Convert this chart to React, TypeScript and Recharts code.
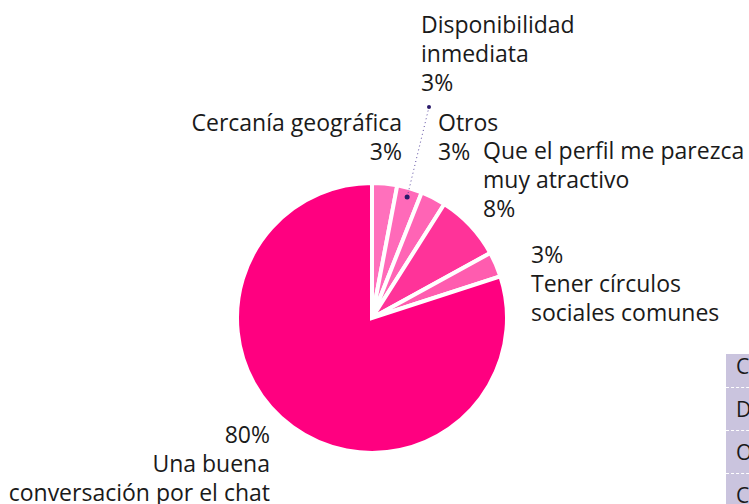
import React from 'react';
import { PieChart, Pie, Cell } from 'recharts';

const categories = [
  'Cercanía geográfica',
  'Disponibilidad inmediata',
  'Otros',
  'Que el perfil me parezca muy atractivo',
  'Tener círculos sociales comunes',
  'Una buena conversación por el chat',
];
const shares = [3, 3, 3, 8, 3, 80];
const sliceColors = ['#ff70bc', '#ff6ab9', '#ff64b5', '#ff3399', '#ff5caf', '#ff0080'];

// label text split into lines, percentage placed first or last
const labelLines = [
  ['Cercanía geográfica', '3%'],
  ['Disponibilidad', 'inmediata', '3%'],
  ['Otros', '3%'],
  ['Que el perfil me parezca', 'muy atractivo', '8%'],
  ['3%', 'Tener círculos', 'sociales comunes'],
  ['80%', 'Una buena', 'conversación por el chat'],
];
const legendRows = ['Cercanía geográfica', 'Disponibilidad inmediata', 'Otros', 'Cita'];

const data = categories.map((name, i) => ({ name, value: shares[i] }));

const CX = 372;
const CY = 318;
const R = 135;
const LINE_H = 29;

// where each label block starts, relative to the pie centre
const labelLayout = [
  { dx: 30, dy: -187, anchor: 'end' },
  { dx: 49, dy: -285, anchor: 'start' },
  { dx: 66, dy: -187, anchor: 'start' },
  { dx: 111, dy: -159, anchor: 'start' },
  { dx: 159, dy: -55, anchor: 'start' },
  { dx: -102, dy: 125, anchor: 'end' },
];

const RAD = Math.PI / 180;

const renderLabel = (props: any) => {
  const { index, cx, cy, midAngle, outerRadius } = props;
  const lay = labelLayout[index];
  const x = cx + lay.dx;
  const y = cy + lay.dy;
  const lines = labelLines[index];
  let leader = null;
  if (index === 1) {
    const cos = Math.cos(-midAngle * RAD);
    const sin = Math.sin(-midAngle * RAD);
    const x1 = cx + (outerRadius - 9) * cos;
    const y1 = cy + (outerRadius - 9) * sin;
    const x2 = x + 8;
    const y2 = y + 74;
    leader = (
      <g>
        <line x1={x1} y1={y1} x2={x2} y2={y2} stroke="#5a4aa0" strokeWidth={1} strokeDasharray="1 3" />
        <circle cx={x1} cy={y1} r={2.5} fill="#2a1a6a" />
        <circle cx={x2} cy={y2} r={2} fill="#2a1a6a" />
      </g>
    );
  }
  return (
    <g key={`lab-${index}`}>
      {leader}
      <text x={x} y={y} textAnchor={lay.anchor} fill="#1a1a1a" fontSize={23} fontFamily="'Open Sans', sans-serif">
        {lines.map((l, j) => (
          <tspan key={j} x={x} y={y + j * LINE_H}>{l}</tspan>
        ))}
      </text>
    </g>
  );
};

const App: React.FC = () => {
  return (
    <div style={{ position: 'absolute', left: 0, top: 0, width: 749, height: 504, overflow: 'hidden', background: '#fff' }}>
      <PieChart width={749} height={504} margin={{ top: 0, right: 0, bottom: 0, left: 0 }}>
        <Pie
          data={data}
          dataKey="value"
          nameKey="name"
          cx={CX}
          cy={CY}
          outerRadius={R}
          startAngle={90}
          endAngle={-270}
          stroke="#ffffff"
          strokeWidth={4}
          label={renderLabel}
          labelLine={false}
          isAnimationActive={false}
        >
          {data.map((d, i) => (
            <Cell key={d.name} fill={sliceColors[i]} />
          ))}
        </Pie>
      </PieChart>
      <div
        style={{
          position: 'absolute',
          left: 726,
          top: 354,
          width: 240,
          height: 160,
          overflow: 'hidden',
          background: '#cac4de',
          fontFamily: "'Open Sans', sans-serif",
          fontSize: 21,
          color: '#1a1a1a',
        }}
      >
        <div style={{ marginTop: -9 }}>
          {legendRows.map((r) => (
            <div
              key={r}
              style={{
                height: 42,
                lineHeight: '42px',
                paddingLeft: 10,
                whiteSpace: 'nowrap',
                borderBottom: '1px dashed #ffffff',
              }}
            >
              {r}
            </div>
          ))}
        </div>
      </div>
    </div>
  );
};

export default App;
